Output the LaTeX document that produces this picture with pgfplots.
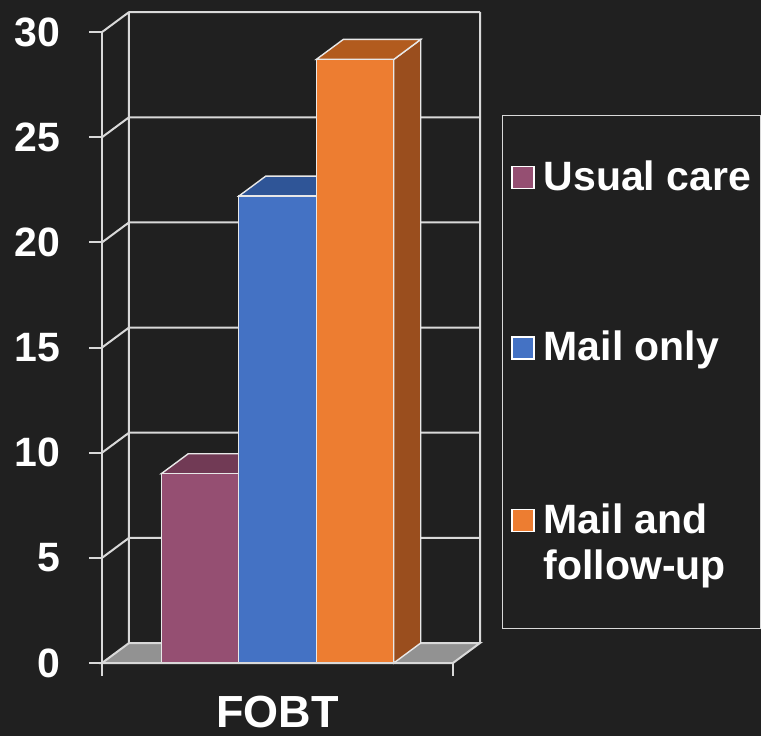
\documentclass[border=0pt]{standalone}
\usepackage{pgfplots}
\pgfplotsset{compat=1.18}
\usepackage{fontspec}
\setmainfont{Liberation Sans}
\usetikzlibrary{backgrounds}
\definecolor{bgc}{HTML}{202020}
\definecolor{lgrid}{HTML}{D9D9D9}
\definecolor{cpurple}{HTML}{954F72}
\definecolor{tpurple}{HTML}{713A55}
\definecolor{cblue}{HTML}{4472C4}
\definecolor{tblue}{HTML}{2F5597}
\definecolor{corange}{HTML}{ED7D31}
\definecolor{torange}{HTML}{B25B1E}
\definecolor{sorange}{HTML}{9A4E1E}
\definecolor{floorc}{HTML}{929292}
\definecolor{edgec}{HTML}{E8E8E8}
\begin{document}
\begin{tikzpicture}[font=\bfseries]
\begin{axis}[
  x=0.5pt, y=10.515pt,
  xmin=0, xmax=351, ymin=0, ymax=30,
  clip=false,
  axis line style={draw=none},
  major tick length=0pt,
  ytick={0,5,...,30},
  xtick={175.5}, xticklabels={FOBT},
  /pgf/number format/assume math mode=true,
  yticklabel style={font=\fontsize{20.5}{24}\selectfont\bfseries, text=white, anchor=east, inner sep=0pt, xshift=-20.5pt},
  xticklabel style={font=\fontsize{22.5}{26}\selectfont\bfseries, text=white, anchor=north, inner sep=0pt, yshift=-16.5pt},
  unbounded coords=jump,
  legend cell align=left,
  legend style={at={(axis cs:399.5,26.06)}, anchor=north west, draw=lgrid, line width=0.6pt, fill=bgc, text=white,
    font=\fontsize{20.5}{23}\selectfont\bfseries,
    inner xsep=4.5pt, inner ysep=17.5pt, row sep=66pt,
    nodes={inner sep=0pt, text depth=},
    /tikz/every odd column/.append style={column sep=4.5pt},
    cells={anchor=base west}},
]
% back wall
\addplot[draw=lgrid, line width=1pt, forget plot] coordinates {
  (27,5.951) (378,5.951) (nan,nan)
  (27,10.951) (378,10.951) (nan,nan)
  (27,15.951) (378,15.951) (nan,nan)
  (27,20.951) (378,20.951) (nan,nan)
  (27,25.951) (378,25.951) (nan,nan)
  (27,30.951) (378,30.951) (nan,nan)
  (27,0.951) (27,30.951) (nan,nan)
  (378,0.951) (378,30.951) (nan,nan)
  (0,5) (27,5.951) (nan,nan)
  (0,10) (27,10.951) (nan,nan)
  (0,15) (27,15.951) (nan,nan)
  (0,20) (27,20.951) (nan,nan)
  (0,25) (27,25.951) (nan,nan)
  (0,30) (27,30.951)
};
% floor
\addplot[fill=floorc, draw=lgrid, line width=1pt, forget plot] coordinates {
  (0,0) (351,0) (378,0.951) (27,0.951)} -- cycle;
% front left axis and ticks
\addplot[draw=lgrid, line width=1pt, forget plot] coordinates {
  (0,0) (0,30) (nan,nan)
  (-13,0) (0,0) (nan,nan)
  (-13,5) (0,5) (nan,nan)
  (-13,10) (0,10) (nan,nan)
  (-13,15) (0,15) (nan,nan)
  (-13,20) (0,20) (nan,nan)
  (-13,25) (0,25) (nan,nan)
  (-13,30) (0,30)
};
% Usual care
\addplot[fill=tpurple, draw=edgec, line width=0.7pt, forget plot] coordinates {
  (59.25,9.0) (136.75,9.0) (163.75,9.951) (86.25,9.951)} -- cycle;
\addplot[ybar, bar shift=0pt, bar width=77.5, fill=cpurple, draw=edgec, line width=0.7pt,
  legend image code/.code={\draw[fill=cpurple, draw=white, line width=0.8pt] (0pt,1pt) rectangle (11pt,12pt);}]
  coordinates {(98,9.0)};
\addlegendentry{\rule{0pt}{20pt}Usual care\vphantom{y}}
% Mail only
\addplot[fill=tblue, draw=edgec, line width=0.7pt, forget plot] coordinates {
  (136.75,22.2) (214.25,22.2) (241.25,23.151) (163.75,23.151)} -- cycle;
\addplot[ybar, bar shift=0pt, bar width=77.5, fill=cblue, draw=edgec, line width=0.7pt,
  legend image code/.code={\draw[fill=cblue, draw=white, line width=0.8pt] (0pt,1pt) rectangle (11pt,12pt);}]
  coordinates {(175.5,22.2)};
\addlegendentry{Mail only}
% Mail and follow-up
\addplot[fill=sorange, draw=edgec, line width=0.7pt, forget plot] coordinates {
  (291.75,0) (318.75,0.951) (318.75,29.651) (291.75,28.7)} -- cycle;
\addplot[fill=torange, draw=edgec, line width=0.7pt, forget plot] coordinates {
  (214.25,28.7) (291.75,28.7) (318.75,29.651) (241.25,29.651)} -- cycle;
\addplot[ybar, bar shift=0pt, bar width=77.5, fill=corange, draw=edgec, line width=0.7pt,
  legend image code/.code={\draw[fill=corange, draw=white, line width=0.8pt] (0pt,1pt) rectangle (11pt,12pt);}]
  coordinates {(253,28.7)};
\addlegendentry{\begin{tabular}[t]{@{}l@{}}Mail and\\follow-up\end{tabular}}
% front bottom line and ticks
\addplot[draw=lgrid, line width=1pt, forget plot] coordinates {
  (0,0) (351,0) (nan,nan)
  (0,0) (0,-0.618) (nan,nan)
  (351,0) (351,-0.618)
};
\coordinate (BL) at (axis cs:-102,-3.471);
\coordinate (TR) at (axis cs:659,31.527);
\end{axis}
\pgfresetboundingbox
\path (BL) rectangle (TR);
\begin{scope}[on background layer]
\fill[bgc] (BL) rectangle (TR);
\end{scope}
\end{tikzpicture}
\end{document}
